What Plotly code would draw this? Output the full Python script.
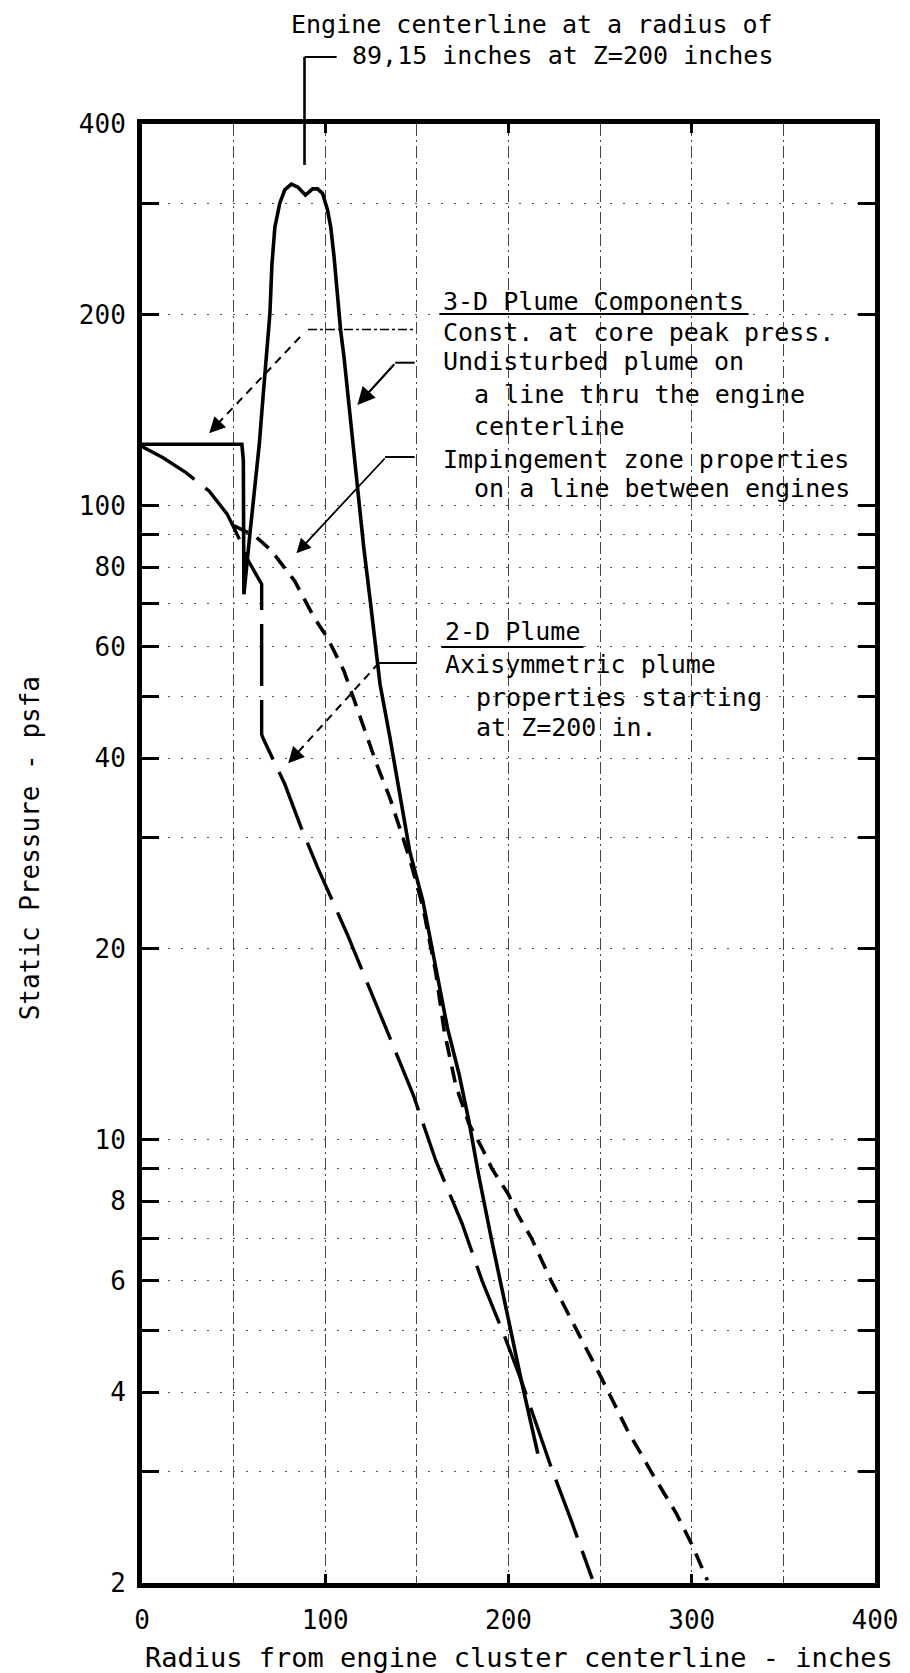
import math
import plotly.graph_objects as go

# ---------------- data ----------------
# 3-D plume: constant at core peak pressure + undisturbed plume through engine centerline
core_x = [0, 54.5, 55.3, 55.6, 59, 64, 66, 68, 69.8, 70.9, 72.5, 75.2, 77.9, 81.5, 85.1,
          89.2, 93.1, 95.8, 98.5, 101.2, 103, 104.8, 106.6, 108.4, 110.2, 113.8, 117.4,
          121, 124.5, 126.4, 129.9, 135.3, 140.7, 146.1, 153.3, 160.4, 166.7, 173,
          178.4, 183.7, 191, 200, 207, 216]
core_p = [125, 125, 118, 72.5, 91, 125, 148, 172, 201, 240, 275, 300, 315, 321.6, 318,
          309, 316, 316, 311, 293, 275, 247, 216, 189, 172, 136, 106,
          86, 71, 63.4, 52.3, 43.1, 35, 28.5, 23.8, 18.7, 15.0, 12.7,
          10.7, 8.8, 6.9, 5.2, 4.17, 3.2]

# 3-D plume: impingement zone properties on a line between engines
imp_x = [50, 55, 61.7, 70.7, 83.3, 94, 101.2, 110.2, 119.2, 128.1, 135.3, 140.7, 146,
         153.3, 160.4, 165, 171.2, 178.4, 185.6, 191, 200, 205.3, 212.5, 223.2, 235.8,
         250.2, 264.5, 278.9, 291.4, 300.4, 308.5]
imp_p = [93, 91.5, 89.6, 84.9, 76.1, 66.6, 61.9, 54.9, 46.3, 39.1, 34.6, 31.1, 27.8,
         23.3, 18.3, 14.8, 12.2, 10.6, 9.7, 9.0, 8.2, 7.6, 7.0, 6.0, 5.1,
         4.24, 3.5, 2.96, 2.58, 2.29, 2.02]

# 2-D axisymmetric plume properties starting at Z=200 in.
axi_x = [0, 11.5, 24, 36.6, 46.5, 52.8, 58.1, 63.5, 65.3, 65.3, 66.2, 77.9, 86.8, 95.8,
         112, 129.9, 147.9, 160.4, 174.8, 185.6, 198.1, 207, 214.3, 223.2, 234, 245.7]
axi_p = [124, 119, 112.8, 105.5, 97, 89, 81.8, 77, 75.2, 43.6, 42.9, 36.4, 31.1, 26.9,
         21.1, 15.8, 11.8, 9.26, 7.36, 5.99, 4.88, 4.17, 3.62, 3.05, 2.52, 2.03]

x_ticks = [0, 100, 200, 300, 400]
x_labels = ["0", "100", "200", "300", "400"]
y_ticks = [2, 3, 4, 5, 6, 7, 8, 9, 10, 20, 30, 40, 50, 60, 70, 80, 90, 100, 200, 300, 400]
y_labels = ["2", "", "4", "", "6", "", "8", "", "10", "20", "", "40", "", "60", "",
            "80", "", "100", "200", "", "400"]

# ---------------- layout geometry (pixels) ----------------
FIG_W, FIG_H = 910, 1673
X0, X1, Y0, Y1 = 142, 884, 124, 1583
W, H = X1 - X0, Y1 - Y0
FONT = "DejaVu Sans Mono"


def px(x):
    return (x - X0) / W


def py(y):
    return (Y1 - y) / H


fig = go.Figure()
fig.add_trace(go.Scatter(x=core_x, y=core_p, mode="lines",
                         line=dict(color="black", width=3.6), showlegend=False))
fig.add_trace(go.Scatter(x=imp_x, y=imp_p, mode="lines",
                         line=dict(color="black", width=3.6, dash="16px,10px"),
                         showlegend=False))
fig.add_trace(go.Scatter(x=axi_x, y=axi_p, mode="lines",
                         line=dict(color="black", width=3.4, dash="62px,14px"),
                         showlegend=False))

shapes = []
annots = []


def seg(x0, y0, x1, y1, width=2.0, dash="solid"):
    shapes.append(dict(type="line", xref="paper", yref="paper",
                       x0=px(x0), y0=py(y0), x1=px(x1), y1=py(y1),
                       line=dict(color="black", width=width, dash=dash),
                       layer="above"))


def text(t, x, y, anchor="left", size=25):
    annots.append(dict(text=t, xref="paper", yref="paper", x=px(x), y=py(y),
                       xanchor=anchor, yanchor="middle", showarrow=False,
                       font=dict(family=FONT, size=size, color="black")))


def head(tipx, tipy, tailx, taily, width=2.0, length=None):
    dx, dy = tailx - tipx, taily - tipy
    if length is not None:
        n = math.hypot(dx, dy)
        dx, dy = dx / n * length, dy / n * length
    annots.append(dict(text="", xref="paper", yref="paper", x=px(tipx), y=py(tipy),
                       ax=dx, ay=dy, axref="pixel", ayref="pixel", showarrow=True,
                       arrowhead=2, arrowsize=1.6, arrowwidth=width,
                       arrowcolor="black", standoff=0, startstandoff=0))


# title with bracket leader
text("Engine centerline at a radius of", 783, 25, anchor="right")
text("89,15 inches at Z=200 inches", 783, 55, anchor="right")
seg(306.5, 57, 339, 57, 2.2)
seg(306.5, 57, 306.5, 165, 2.6)

# 3-D plume components block
blk3 = [("3-D Plume Components", 445, 301.7),
        ("Const. at core peak press.", 445, 332.3),
        ("Undisturbed plume on", 445, 361.7),
        ("a line thru the engine", 476, 394.2),
        ("centerline", 476, 426.7),
        ("Impingement zone properties", 445, 459),
        ("on a line between engines", 476, 488.3)]
for t, x, y in blk3:
    text(t, x, y)
seg(443, 314, 756, 314, 2.2)

# 2-D plume block
blk2 = [("2-D Plume", 446.7, 631),
        ("Axisymmetric plume", 446.7, 664),
        ("properties starting", 478, 697),
        ("at Z=200 in.", 478, 727.5)]
for t, x, y in blk2:
    text(t, x, y)
seg(445, 647, 589, 647, 2.2)

# leaders and arrows
seg(310, 329.5, 418, 329.5, 1.6, "dashdot")
seg(302, 337, 216, 426.5, 2.0, "8px,6px")
head(210, 433.3, 302, 337, 2.0, length=16)

seg(398.3, 362.7, 418, 362.7, 2.0)
head(360, 405, 398.3, 362.7, 2.2)

seg(388, 457, 418, 457, 2.0)
head(298.3, 553.3, 388, 457, 1.8)

seg(381.7, 663, 420, 663, 2.0)
seg(381.7, 663, 296, 756.5, 2.0, "8px,6px")
head(290, 763.3, 381.7, 663, 2.0, length=16)

# axis titles
annots.append(dict(text="Static Pressure - psfa", xref="paper", yref="paper",
                   x=px(29), y=py(848), textangle=-90, showarrow=False,
                   xanchor="center", yanchor="middle",
                   font=dict(family=FONT, size=26, color="black")))
annots.append(dict(text="Radius from engine cluster centerline - inches",
                   xref="paper", yref="paper", x=px(524), y=py(1657),
                   showarrow=False, xanchor="center", yanchor="middle",
                   font=dict(family=FONT, size=27, color="black")))

fig.update_layout(
    width=FIG_W, height=FIG_H,
    margin=dict(l=X0, r=FIG_W - X1, t=Y0, b=FIG_H - Y1, pad=0),
    paper_bgcolor="white", plot_bgcolor="white",
    shapes=shapes, annotations=annots,
    font=dict(family=FONT, size=26, color="black"),
)
fig.update_xaxes(
    range=[0, 400], tickmode="array", tickvals=x_ticks, ticktext=x_labels,
    ticks="inside", ticklen=9, tickwidth=3, tickcolor="black",
    showline=True, linewidth=5, linecolor="black", mirror="allticks",
    showgrid=True, gridcolor="#444", gridwidth=1, griddash="12px,4px,2px,4px",
    minor=dict(dtick=50, tick0=0, showgrid=True, gridcolor="#444", gridwidth=1,
               griddash="12px,4px,2px,4px", ticks=""),
    zeroline=False, ticklabelstandoff=10,
    tickfont=dict(family=FONT, size=26, color="black"),
)
fig.update_yaxes(
    type="log", range=[math.log10(2), math.log10(400)],
    tickmode="array", tickvals=y_ticks, ticktext=y_labels,
    ticks="inside", ticklen=17, tickwidth=3, tickcolor="black",
    showline=True, linewidth=5, linecolor="black", mirror="allticks",
    showgrid=True, gridcolor="#555", gridwidth=1, griddash="2px,11px",
    zeroline=False, ticklabelstandoff=6,
    tickfont=dict(family=FONT, size=26, color="black"),
)

fig.write_html("out.html")
